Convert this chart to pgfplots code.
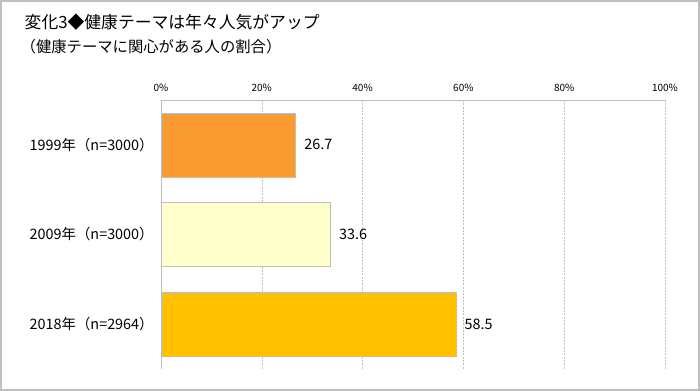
\documentclass[border=0pt]{standalone}
\usepackage{pgfplots}
\pgfplotsset{compat=1.18}
\usepackage{fontspec}
\setmainfont{Noto Sans CJK JP}
\definecolor{barA}{HTML}{F99B31}
\definecolor{barB}{HTML}{FFFFCC}
\definecolor{barC}{HTML}{FFC000}
\definecolor{frm}{HTML}{BFBFBF}
\definecolor{axl}{HTML}{BFBFBF}
\begin{document}
\begin{tikzpicture}
\draw[frm,line width=1.5pt] (0.75pt,0.75pt) rectangle (524.25pt,292.5pt);
\node[anchor=west,font=\fontsize{12.6pt}{14pt}\selectfont] at (15pt,276.5pt) {変化3◆健康テーマは年々人気がアップ};
\node[anchor=west,font=\fontsize{11.5pt}{13pt}\selectfont] at (12pt,258.5pt) {（健康テーマに関心がある人の割合）};
\begin{axis}[
  at={(120.75pt,16.5pt)}, anchor=south west,
  scale only axis, width=378pt, height=201.75pt,
  xbar, bar width=48pt, bar shift=0pt,
  xmin=0, xmax=100, ymin=-0.5, ymax=2.5, y dir=reverse,
  axis x line=top, axis y line=left,
  axis line style={axl,-},
  xtick={0,20,40,60,80,100},
  xticklabels={0\%,20\%,40\%,60\%,80\%,100\%},
  xticklabel style={font=\fontsize{7.5pt}{9pt}\selectfont, yshift=3pt},
  ytick={0,1,2},
  yticklabels={1999年（n=3000）,2009年（n=3000）,2018年（n=2964）},
  yticklabel style={font=\fontsize{10.8pt}{12pt}\selectfont, xshift=-2pt},
  major tick length=0pt,
  xmajorgrids, grid style={axl, dash pattern=on 1.5pt off 1pt},
  /pgf/number format/assume math mode=true,
  nodes near coords,
  every node near coord/.append style={font=\fontsize{10.8pt}{12pt}\selectfont, anchor=west, xshift=3pt},
  nodes near coords style={/pgf/number format/.cd, fixed, precision=1, fixed zerofill},
]
\addplot[fill=barA, draw=frm] coordinates {(26.7,0)};
\addplot[fill=barB, draw=frm] coordinates {(33.6,1)};
\addplot[fill=barC, draw=frm] coordinates {(58.5,2)};
\end{axis}
\end{tikzpicture}
\end{document}
